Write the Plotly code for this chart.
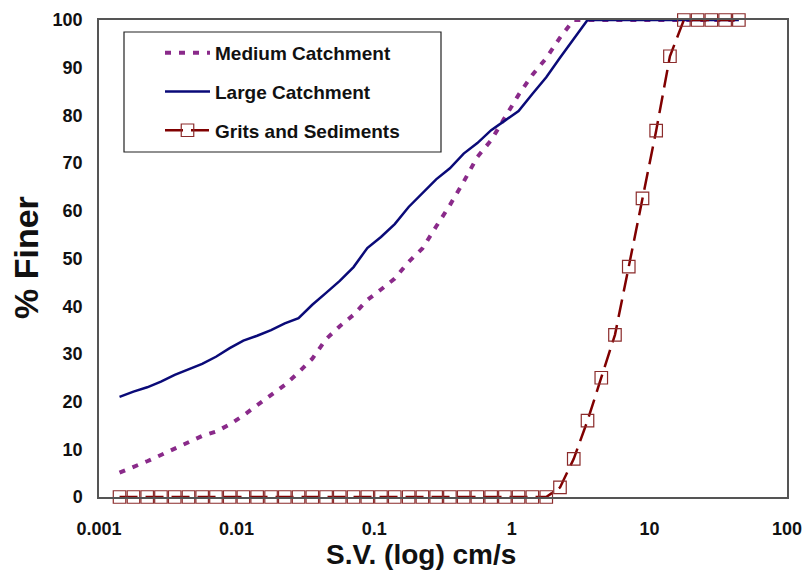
import plotly.graph_objects as go

# Shared settling-velocity grid (cm/s)
sv = [0.00141, 0.00178, 0.00224, 0.00282, 0.00355, 0.00447, 0.00562, 0.00708, 0.00891,
      0.0112, 0.0141, 0.0178, 0.0224, 0.0282, 0.0355, 0.0447, 0.0562, 0.0708, 0.0891,
      0.112, 0.141, 0.178, 0.224, 0.282, 0.355, 0.447, 0.562, 0.708, 0.891,
      1.12, 1.41, 1.78, 2.24, 2.82, 3.55, 4.47, 5.62, 7.08, 8.91,
      11.2, 14.1, 17.8, 22.4, 28.2, 35.5, 44.7]

medium = [5.1, 6.2, 7.5, 8.8, 10.1, 11.6, 12.8, 13.7, 15.2, 17.1, 19.2, 21.4, 23.5, 26.1,
          29.0, 33.1, 35.8, 38.2, 41.3, 43.5, 45.8, 49.3, 52.1, 56.7, 61.2, 66.1, 71.3,
          74.8, 79.4, 84.3, 88.5, 92.0, 96.3,
          100, 100, 100, 100, 100, 100, 100, 100, 100, 100, 100, 100, 100]

large = [21.0, 22.1, 23.0, 24.2, 25.6, 26.8, 27.9, 29.4, 31.2, 32.8, 33.8, 35.0, 36.4, 37.5,
         40.3, 42.8, 45.3, 48.2, 52.2, 54.5, 57.2, 60.8, 63.8, 66.6, 68.9, 72.0, 74.2,
         76.9, 78.9, 80.9, 84.5, 88.0, 92.1, 96.0,
         100, 100, 100, 100, 100, 100, 100, 100, 100, 100, 100, 100]

grits = [0, 0, 0, 0, 0, 0, 0, 0, 0, 0, 0, 0, 0, 0, 0, 0,
         0, 0, 0, 0, 0, 0, 0, 0, 0, 0, 0, 0, 0, 0, 0, 0,
         2, 8, 16, 25, 34, 48.3, 62.6, 76.8, 92.4,
         100, 100, 100, 100, 100]

names = ["Medium Catchment", "Large Catchment", "Grits and Sediments"]
x_ticks = [0.001, 0.01, 0.1, 1, 10, 100]
x_tick_text = ["0.001", "0.01", "0.1", "1", "10", "100"]
y_ticks = [0, 10, 20, 30, 40, 50, 60, 70, 80, 90, 100]

FONT = "Liberation Sans, Arial, sans-serif"

fig = go.Figure()
fig.add_trace(go.Scatter(
    x=sv, y=medium, name=names[0], mode="lines", legendgroup="a",
    line=dict(color="#8a2a8a", width=4, dash="6px,8px"), cliponaxis=False))
fig.add_trace(go.Scatter(
    x=sv, y=large, name=names[1], mode="lines", legendgroup="b",
    line=dict(color="#0a0a78", width=2.5), cliponaxis=False))
fig.add_trace(go.Scatter(
    x=sv, y=grits, name=names[2], mode="lines+markers", legendgroup="c",
    line=dict(color="#800000", width=2.5, dash="18px,8px"),
    marker=dict(symbol="square-open", size=12.5, color="#8b2b2b", line=dict(width=1.2)),
    cliponaxis=False))

# body margin is removed by the post script, so the figure fills the window
W, H = 804, 573
L, T, R, B = 99, 20, 17, 76
pw, ph = W - L - R, H - T - B

def px2x(p):
    return (p - L) / pw

def px2y(p):
    return (H - B - p) / ph

fig.update_layout(
    width=W, height=H,
    margin=dict(l=L, r=R, t=T, b=B, autoexpand=False),
    paper_bgcolor="white", plot_bgcolor="white",
    showlegend=True,
    legend=dict(
        x=px2x(160), y=px2y(34), xanchor="left", yanchor="top",
        bgcolor="rgba(0,0,0,0)", borderwidth=0,
        font=dict(family=FONT, size=19, color="#111", weight="bold"),
        traceorder="grouped", tracegroupgap=11, itemwidth=45,
    ),
    shapes=[dict(type="rect", xref="paper", yref="paper",
                 x0=px2x(124), x1=px2x(441), y0=px2y(152), y1=px2y(32),
                 line=dict(color="#222", width=1.2), fillcolor="white", layer="above")],
    annotations=[
        dict(text="S.V. (log) cm/s", xref="paper", yref="paper",
             x=px2x(421), y=px2y(554), xanchor="center", yanchor="middle",
             showarrow=False, font=dict(family=FONT, size=28, color="#111", weight="bold")),
        dict(text="% Finer", xref="paper", yref="paper", textangle=-90,
             x=px2x(26), y=px2y(258), xanchor="center", yanchor="middle",
             showarrow=False, font=dict(family=FONT, size=34, color="#111", weight="bold")),
    ],
)

fig.update_xaxes(
    type="log", range=[-3, 2], tickvals=x_ticks, ticktext=x_tick_text,
    showgrid=False, zeroline=False, ticks="", ticklabelstandoff=15, automargin=False,
    ticklabeloverflow="allow",
    showline=True, linecolor="#555", linewidth=1.5, mirror=True,
    tickfont=dict(family=FONT, size=18, color="#111", weight="bold"),
)
fig.update_yaxes(
    range=[0, 100], tickvals=y_ticks,
    showgrid=False, zeroline=False, ticks="", ticklabelstandoff=11, automargin=False,
    showline=True, linecolor="#555", linewidth=1.5, mirror=True,
    tickfont=dict(family=FONT, size=18, color="#111", weight="bold"),
)

fig.write_html("out.html", config={"displayModeBar": False},
               post_script="document.body.style.margin='0px';document.body.style.overflow='hidden';")
